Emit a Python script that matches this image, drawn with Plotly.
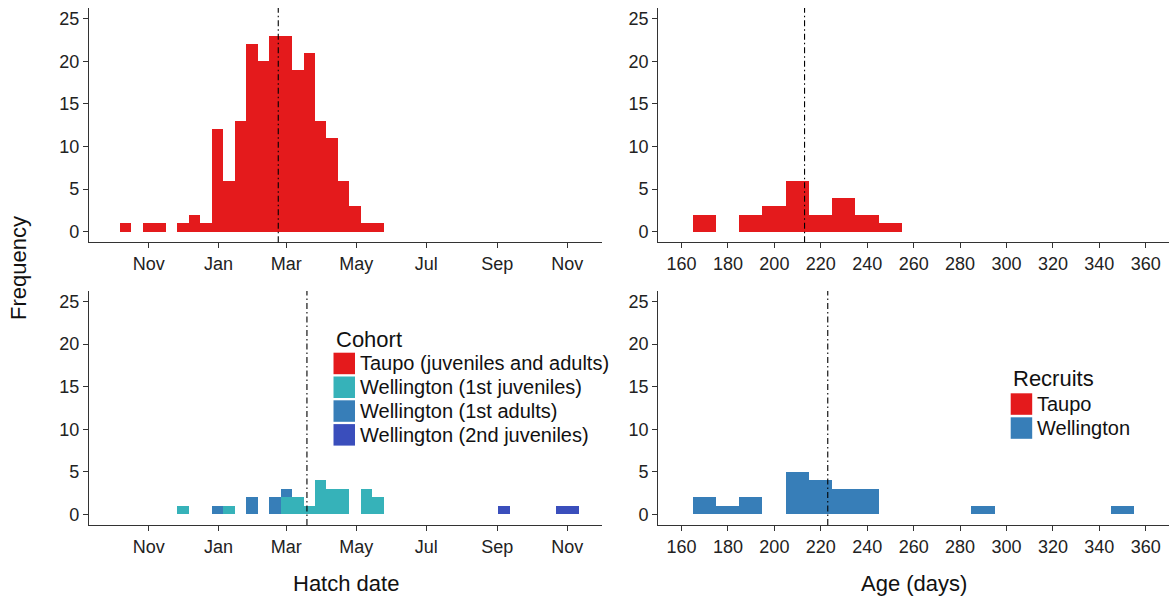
import plotly.graph_objects as go

# ---------------- data ----------------
# Hatch-date histograms (10-day bins, bin centres)
taupo_hatch_bins = ["2014-10-12", "2014-11-01", "2014-11-11", "2014-12-01", "2014-12-11",
                    "2014-12-21", "2014-12-31", "2015-01-10", "2015-01-20", "2015-01-30",
                    "2015-02-09", "2015-02-19", "2015-03-01", "2015-03-11", "2015-03-21",
                    "2015-03-31", "2015-04-10", "2015-04-20", "2015-04-30", "2015-05-10",
                    "2015-05-20"]
taupo_hatch_counts = [1, 1, 1, 1, 2, 1, 12, 6, 13, 22, 20, 23, 23, 19, 21, 13, 11, 6, 3, 1, 1]

well_juv1_hatch_bins = ["2014-12-01", "2015-01-10", "2015-03-01", "2015-03-11", "2015-03-21",
                        "2015-03-31", "2015-04-10", "2015-04-20", "2015-05-10", "2015-05-20"]
well_juv1_hatch_counts = [1, 1, 2, 2, 1, 4, 3, 3, 3, 2]

well_adult1_hatch_bins = ["2014-12-31", "2015-01-30", "2015-02-19", "2015-03-01"]
well_adult1_hatch_counts = [1, 2, 2, 1]

well_juv2_hatch_bins = ["2015-09-07", "2015-10-27", "2015-11-06"]
well_juv2_hatch_counts = [1, 1, 1]

taupo_mean_hatch = "2015-02-22"
well_mean_hatch = "2015-03-19"

# Age histograms (10-day bins, bin centres)
taupo_age_bins = [170, 190, 200, 210, 220, 230, 240, 250]
taupo_age_counts = [2, 2, 3, 6, 2, 4, 2, 1]
well_age_bins = [170, 180, 190, 210, 220, 230, 240, 290, 350]
well_age_counts = [2, 1, 2, 5, 4, 3, 3, 1, 1]
taupo_mean_age = 213
well_mean_age = 223

month_tickvals = ["2014-11-01", "2015-01-01", "2015-03-01", "2015-05-01",
                  "2015-07-01", "2015-09-01", "2015-11-01"]
month_ticktext = ["Nov", "Jan", "Mar", "May", "Jul", "Sep", "Nov"]
age_tickvals = [160, 180, 200, 220, 240, 260, 280, 300, 320, 340, 360]
freq_tickvals = [0, 5, 10, 15, 20, 25]

cohort_names = ["Taupo (juveniles and adults)", "Wellington (1st juveniles)",
                "Wellington (1st adults)", "Wellington (2nd juveniles)"]
cohort_colors = ["#E41A1C", "#36B2B9", "#377EB8", "#3A4EBC"]
recruit_names = ["Taupo", "Wellington"]
recruit_colors = ["#E41A1C", "#377EB8"]

# ---------------- figure ----------------
W, H = 1174, 597
ML, MR, MT, MB = 89, 5, 8, 72
PW, PH = W - ML - MR, H - MT - MB
FONT = "Liberation Sans, Arial, sans-serif"
DAY_MS = 86400000.0


def px_x(p):
    return (p - ML) / PW


def px_y(p):
    return (H - MB - p) / PH


fig = go.Figure()


def add_bar(x, y, color, name, xa, ya, width):
    fig.add_trace(go.Bar(x=x, y=y, width=width, name=name,
                         marker=dict(color=color, line=dict(width=0)),
                         xaxis=xa, yaxis=ya, showlegend=False))


add_bar(taupo_hatch_bins, taupo_hatch_counts, cohort_colors[0], cohort_names[0], "x", "y", 10 * DAY_MS)
add_bar(taupo_age_bins, taupo_age_counts, recruit_colors[0], recruit_names[0], "x2", "y2", 10)
add_bar(well_juv1_hatch_bins, well_juv1_hatch_counts, cohort_colors[1], cohort_names[1], "x3", "y3", 10 * DAY_MS)
add_bar(well_adult1_hatch_bins, well_adult1_hatch_counts, cohort_colors[2], cohort_names[2], "x3", "y3", 10 * DAY_MS)
add_bar(well_juv2_hatch_bins, well_juv2_hatch_counts, cohort_colors[3], cohort_names[3], "x3", "y3", 10 * DAY_MS)
add_bar(well_age_bins, well_age_counts, recruit_colors[1], recruit_names[1], "x4", "y4", 10)

# mean lines
shapes = []
for xa, ya, xv in [("x", "y", taupo_mean_hatch), ("x2", "y2", taupo_mean_age),
                   ("x3", "y3", well_mean_hatch), ("x4", "y4", well_mean_age)]:
    shapes.append(dict(type="line", xref=xa, yref=ya + " domain", x0=xv, x1=xv, y0=0, y1=1,
                       line=dict(color="black", width=1.1, dash="6px,3px,1.5px,3px")))

axis_common = dict(showline=True, linecolor="#333333", linewidth=1.3, ticks="outside",
                   ticklen=5, tickwidth=1.2, tickcolor="#333333", showgrid=False,
                   zeroline=False, tickfont=dict(family=FONT, size=18, color="#222222"))

xdom_left = [0, px_x(602.3)]
xdom_right = [px_x(658.3), 1]
ydom_top = [px_y(242.3), 1]
ydom_bot = [0, px_y(291)]

date_range = ["2014-09-10", "2015-12-01 12:00"]
age_range = [150, 370]
freq_range = [-1.25, 26.25]

layout = dict(
    width=W, height=H, margin=dict(l=ML, r=MR, t=MT, b=MB),
    paper_bgcolor="white", plot_bgcolor="white",
    barmode="stack", bargap=0, showlegend=False,
    font=dict(family=FONT, color="#222222"),
    xaxis=dict(domain=xdom_left, anchor="y", type="date", range=date_range,
               tickvals=month_tickvals, ticktext=month_ticktext, **axis_common),
    yaxis=dict(domain=ydom_top, anchor="x", range=freq_range, tickvals=freq_tickvals, **axis_common),
    xaxis2=dict(domain=xdom_right, anchor="y2", range=age_range, tickvals=age_tickvals, **axis_common),
    yaxis2=dict(domain=ydom_top, anchor="x2", range=freq_range, tickvals=freq_tickvals, **axis_common),
    xaxis3=dict(domain=xdom_left, anchor="y3", type="date", range=date_range,
                tickvals=month_tickvals, ticktext=month_ticktext, **axis_common),
    yaxis3=dict(domain=ydom_bot, anchor="x3", range=freq_range, tickvals=freq_tickvals, **axis_common),
    xaxis4=dict(domain=xdom_right, anchor="y4", range=age_range, tickvals=age_tickvals, **axis_common),
    yaxis4=dict(domain=ydom_bot, anchor="x4", range=freq_range, tickvals=freq_tickvals, **axis_common),
)

annotations = [
    dict(text="Frequency", xref="paper", yref="paper", x=px_x(18), y=px_y(268),
         textangle=-90, showarrow=False, font=dict(family=FONT, size=22, color="#111111"),
         xanchor="center", yanchor="middle"),
    dict(text="Hatch date", xref="x3 domain", yref="paper", x=0.5, y=px_y(583),
         showarrow=False, font=dict(family=FONT, size=22, color="#111111"),
         xanchor="center", yanchor="middle"),
    dict(text="Age (days)", xref="x4 domain", yref="paper", x=0.5, y=px_y(583),
         showarrow=False, font=dict(family=FONT, size=22, color="#111111"),
         xanchor="center", yanchor="middle"),
]

# custom legends (ggplot style large keys)
def add_legend(title, names, colors, left, title_y, first_key_top, step, key=21.5):
    annotations.append(dict(text=title, xref="paper", yref="paper", x=px_x(left), y=px_y(title_y),
                            showarrow=False, xanchor="left", yanchor="middle",
                            font=dict(family=FONT, size=22, color="#111111")))
    for i, (n, c) in enumerate(zip(names, colors)):
        top = first_key_top + i * step
        shapes.append(dict(type="rect", xref="paper", yref="paper",
                           x0=px_x(left), x1=px_x(left + key), y0=px_y(top + key), y1=px_y(top),
                           fillcolor=c, line=dict(width=0)))
        annotations.append(dict(text=n, xref="paper", yref="paper", x=px_x(left + key + 3),
                                y=px_y(top + key / 2), showarrow=False, xanchor="left",
                                yanchor="middle", font=dict(family=FONT, size=20, color="#111111")))


add_legend("Cohort", cohort_names, cohort_colors, 333.5, 339, 352.7, 23.8)
add_legend("Recruits", recruit_names, recruit_colors, 1010.7, 378, 393.3, 24)

layout["shapes"] = shapes
layout["annotations"] = annotations
fig.update_layout(**layout)

fig.write_html("out.html")
